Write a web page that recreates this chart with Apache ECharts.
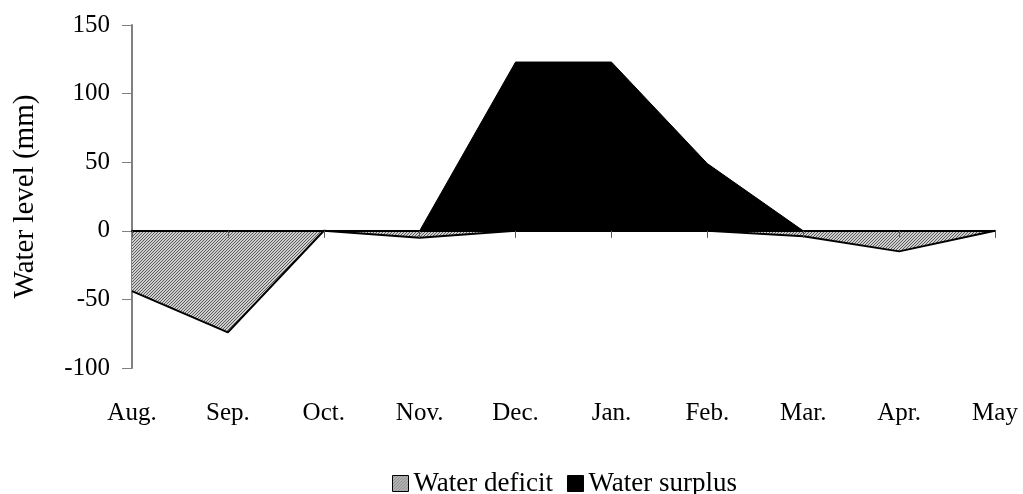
<!DOCTYPE html>
<html>
<head>
<meta charset="utf-8">
<script src="https://cdn.jsdelivr.net/npm/echarts@6/dist/echarts.min.js"></script>
<style>
  html, body { margin: 0; padding: 0; background: #fff; }
  #chart { width: 1023px; height: 494px; }
</style>
</head>
<body>
<div id="chart"></div>
<script>
// Water balance by month: deficit (hatched, below zero) and surplus (solid black, above zero).
const months = ["Aug.", "Sep.", "Oct.", "Nov.", "Dec.", "Jan.", "Feb.", "Mar.", "Apr.", "May"];
const deficit = [-44, -74, 0, -5, 0, 0, 0, -4, -15, 0];
const surplus = [0, 0, 0, 0, 123, 123, 49, 0, 0, 0];
const yTicks = { min: -100, max: 150, step: 50 };

const FONT = "'Liberation Serif', 'Times New Roman', serif";

// small "////" hatch tile for the deficit fill
function hatch() {
  const c = document.createElement("canvas");
  c.width = 3; c.height = 3;
  const g = c.getContext("2d");
  g.fillStyle = "#cfcfcf";
  g.fillRect(0, 0, 3, 3);
  g.fillStyle = "#5a5a5a";
  g.fillRect(2, 0, 1, 1);
  g.fillRect(1, 1, 1, 1);
  g.fillRect(0, 2, 1, 1);
  return { image: c, repeat: "repeat" };
}
const HATCH = hatch();

const chart = echarts.init(document.getElementById("chart"), null, { renderer: "canvas" });
chart.setOption({
  animation: false,
  textStyle: { fontFamily: FONT, color: "#000" },
  grid: { left: 132, right: 28, top: 25, bottom: 126, containLabel: false },
  legend: {
    left: 387, top: 465,
    icon: "rect", itemWidth: 16, itemHeight: 16, itemGap: 14,
    textStyle: { fontFamily: FONT, fontSize: 27, color: "#000" },
    data: [
      { name: "Water deficit", itemStyle: { color: HATCH, borderColor: "#000", borderWidth: 1 } },
      { name: "Water surplus", itemStyle: { color: "#000", borderColor: "#000", borderWidth: 1 } },
    ],
  },
  xAxis: [
    {
      type: "category", data: months, boundaryGap: false,
      axisLine: { onZero: true, lineStyle: { color: "#000", width: 2 } },
      axisTick: { show: true, length: 7, lineStyle: { color: "#555", width: 1 } },
      axisLabel: { show: false },
      splitLine: { show: false },
      z: 5,
    },
    {
      type: "category", data: months, boundaryGap: false, position: "bottom",
      axisLine: { show: false, onZero: false },
      axisTick: { show: false },
      axisLabel: { fontFamily: FONT, fontSize: 25, color: "#000", margin: 33 },
    },
  ],
  yAxis: {
    type: "value", min: yTicks.min, max: yTicks.max, interval: yTicks.step,
    name: "Water level (mm)", nameLocation: "middle", nameGap: 92,
    nameTextStyle: { fontFamily: FONT, fontSize: 29, color: "#000" },
    axisLine: { show: true, lineStyle: { color: "#808080", width: 2 } },
    axisTick: { show: true, length: 10, lineStyle: { color: "#808080", width: 1 } },
    axisLabel: { fontFamily: FONT, fontSize: 25, color: "#000", margin: 22 },
    splitLine: { show: false },
  },
  series: [
    {
      name: "Water deficit", type: "line", data: deficit, xAxisIndex: 0,
      symbol: "none",
      lineStyle: { color: "#000", width: 2 },
      itemStyle: { color: HATCH },
      areaStyle: { color: HATCH, opacity: 1, origin: 0 },
      z: 2,
    },
    {
      name: "Water surplus", type: "line", data: surplus, xAxisIndex: 0,
      symbol: "none",
      lineStyle: { color: "#000", width: 1 },
      itemStyle: { color: "#000" },
      areaStyle: { color: "#000", opacity: 1, origin: 0 },
      z: 3,
    },
  ],
});
</script>
</body>
</html>
